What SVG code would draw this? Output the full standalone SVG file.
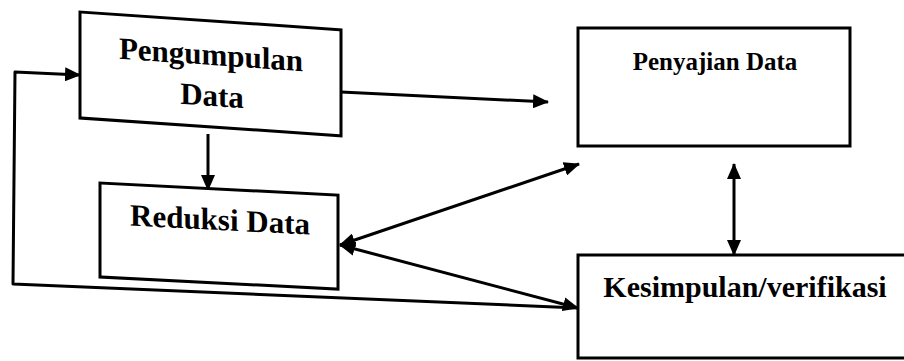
<svg xmlns="http://www.w3.org/2000/svg" width="904" height="361" viewBox="0 0 904 361">
<style>
.box{fill:#fff;stroke:#000;stroke-width:3}
.lbl{font-family:"Liberation Serif","Times New Roman",serif;font-weight:bold;fill:#000;text-anchor:middle}
.con{fill:none;stroke:#000;stroke-width:3;stroke-linejoin:round}
</style>
<defs>
<marker id="ah" viewBox="0 0 16 14" refX="15" refY="7" markerWidth="16" markerHeight="14" markerUnits="userSpaceOnUse" orient="auto-start-reverse">
<path d="M0,0 L16,7 L0,14 Z" fill="#000"/>
</marker>
</defs>
<rect width="904" height="361" fill="#fff"/>
<g id="connectors">
<path class="con" d="M341,92 L548,102" marker-end="url(#ah)"/>
<path class="con" d="M208,134 L208,190" marker-end="url(#ah)"/>
<path class="con" d="M340,245 L579,164" marker-start="url(#ah)" marker-end="url(#ah)"/>
<path class="con" d="M340,245 L578,308" marker-start="url(#ah)" marker-end="url(#ah)"/>
<path class="con" d="M734,164 L734,255" marker-start="url(#ah)" marker-end="url(#ah)"/>
<path class="con" d="M578,308 L13,284 L15,72 L80,75" marker-end="url(#ah)"/>
</g>
<g id="pengumpulan" transform="translate(80,0) skewY(3.9) translate(-80,0)">
<rect class="box" x="80" y="12" width="261" height="106"/>
<text class="lbl" x="211" y="56" font-size="31">Pengumpulan</text>
<text class="lbl" x="212" y="97" font-size="31">Data</text>
</g>
<g id="reduksi" transform="translate(100,0) skewY(2.9) translate(-100,0)">
<rect class="box" x="100" y="183" width="238" height="94"/>
<text class="lbl" x="220" y="224" font-size="31">Reduksi Data</text>
</g>
<g id="penyajian">
<rect class="box" x="578" y="28" width="272" height="118"/>
<text class="lbl" x="715" y="70" font-size="25">Penyajian Data</text>
</g>
<g id="kesimpulan">
<rect class="box" x="578" y="255" width="340" height="103"/>
<text class="lbl" x="745" y="297" font-size="30">Kesimpulan/verifikasi</text>
</g>
</svg>
